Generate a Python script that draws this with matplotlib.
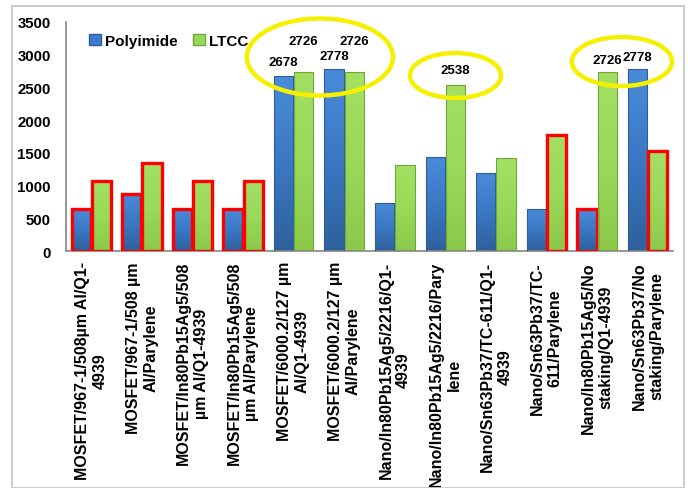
import matplotlib
matplotlib.use("Agg")
import matplotlib.pyplot as plt
import numpy as np
from matplotlib.patches import Ellipse, Rectangle, Patch
from matplotlib.colors import LinearSegmentedColormap

plt.rcParams['font.family'] = ['Liberation Sans', 'DejaVu Sans']
plt.rcParams['font.weight'] = 'bold'

categories = [
    "MOSFET/967-1/508µm Al/Q1-\n4939",
    "MOSFET/967-1/508 µm\nAl/Parylene",
    "MOSFET/In80Pb15Ag5/508\nµm Al/Q1-4939",
    "MOSFET/In80Pb15Ag5/508\nµm Al/Parylene",
    "MOSFET/6000.2/127 µm\nAl/Q1-4939",
    "MOSFET/6000.2/127 µm\nAl/Parylene",
    "Nano/In80Pb15Ag5/2216/Q1-\n4939",
    "Nano/In80Pb15Ag5/2216/Pary\nlene",
    "Nano/Sn63Pb37/TC-611/Q1-\n4939",
    "Nano/Sn63Pb37/TC-\n611/Parylene",
    "Nano/In80Pb15Ag5/No\nstaking/Q1-4939",
    "Nano/Sn63Pb37/No\nstaking/Parylene",
]
polyimide = [650, 880, 650, 650, 2678, 2778, 740, 1440, 1190, 650, 650, 2778]
ltcc = [1075, 1340, 1075, 1075, 2726, 2726, 1320, 2538, 1420, 1780, 2726, 1530]
# which bars are highlighted with a red outline
poly_red = [True, True, True, True, False, False, False, False, False, False, True, False]
ltcc_red = [True, True, True, True, False, False, False, False, False, True, False, True]
# value labels: (series, index)
poly_labels = [4, 5, 11]
ltcc_labels = [4, 5, 7, 10]
yticks = [0, 500, 1000, 1500, 2000, 2500, 3000, 3500]

W, H = 688, 489
fig = plt.figure(figsize=(W / 100, H / 100), dpi=100)
ax = fig.add_axes([66 / W, 1 - 252.3 / H, (673 - 66) / W, (252.3 - 22.7) / H])

# outer chart frame
fig.patches.append(Rectangle((12 / W, 0.0), (684 - 12) / W, (489 - 7) / H,
                             transform=fig.transFigure, fill=False,
                             edgecolor='#c8c8c8', linewidth=1.3, zorder=0))

x = np.arange(len(categories))
bw = 0.38
blue_cmap = LinearSegmentedColormap.from_list('b', ['#2f609c', '#3b78c4', '#4a8cda'])
green_cmap = LinearSegmentedColormap.from_list('g', ['#8cc94a', '#9ad95a', '#a4e063'])

bars_p = ax.bar(x - bw / 2 - 0.01, polyimide, bw, color='#3d7bc8', zorder=2)
bars_l = ax.bar(x + bw / 2 + 0.01, ltcc, bw, color='#9ad95a', zorder=2)

grad = np.linspace(0, 1, 256).reshape(-1, 1)
for bars, cmap, reds, edge in [(bars_p, blue_cmap, poly_red, '#2e5e98'),
                               (bars_l, green_cmap, ltcc_red, '#6fa83a')]:
    for b, r in zip(bars, reds):
        x0, y0, w, h = b.get_x(), b.get_y(), b.get_width(), b.get_height()
        im = ax.imshow(grad, cmap=cmap, aspect='auto', origin='lower',
                       extent=[x0, x0 + w, y0, y0 + h], zorder=2.1)
        im.set_clip_path(b)
        if r:
            ax.add_patch(Rectangle((x0, y0), w, h, fill=False, edgecolor='#ff0000',
                                   linewidth=2.4, zorder=3))
        else:
            ax.add_patch(Rectangle((x0, y0), w, h, fill=False, edgecolor=edge,
                                   linewidth=0.8, zorder=3))

# value labels
lbl_off_p = {4: 10, 5: 9.5, 11: 8.5}
lbl_off_l = {4: 23, 5: 23, 7: 11, 10: 9}
for i in poly_labels:
    b = bars_p[i]
    ax.annotate(f"{polyimide[i]}", (b.get_x() + b.get_width() / 2, polyimide[i]),
                xytext=(0, lbl_off_p[i]), textcoords='offset points',
                ha='center', va='center', fontsize=9.5, fontweight='bold', zorder=5)
for i in ltcc_labels:
    b = bars_l[i]
    ax.annotate(f"{ltcc[i]}", (b.get_x() + b.get_width() / 2, ltcc[i]),
                xytext=(0, lbl_off_l[i]), textcoords='offset points',
                ha='center', va='center', fontsize=9.5, fontweight='bold', zorder=5)

# yellow highlight ellipses
for cx, cy, ew, eh in [(4.52, 2962, 2.89, 1174), (7.2, 2680, 1.8, 686), (10.49, 2893, 1.98, 747)]:
    ax.add_patch(Ellipse((cx, cy), ew, eh, fill=False, edgecolor='#f5f000',
                         linewidth=3.2, zorder=6, clip_on=False))

ax.set_xlim(-0.5, len(categories) - 0.5)
ax.set_ylim(0, 3500)
ax.set_yticks(yticks)
ax.set_yticklabels([str(v) for v in yticks], fontsize=10.8, fontweight='bold')
ax.set_xticks(x)
ax.set_xticklabels(categories, rotation=90, ha='center', va='top',
                   multialignment='center', fontsize=11.5, fontweight='bold',
                   linespacing=1.22)
ax.tick_params(axis='y', length=0, pad=11)
ax.tick_params(axis='x', length=0, pad=7)
for s in ['top', 'right']:
    ax.spines[s].set_visible(False)
for s in ['left', 'bottom']:
    ax.spines[s].set_color('#868686')
    ax.spines[s].set_linewidth(1.2)
ax.set_facecolor('none')

handles = [Patch(facecolor='#3d7bc8', edgecolor='#2e5e98', label='Polyimide'),
           Patch(facecolor='#9ad95a', edgecolor='#6fa83a', label='LTCC')]
ax.legend(handles=handles, loc='center left', bbox_to_anchor=(0.026, 0.916),
          frameon=False, borderpad=0, handlelength=0.75, handleheight=0.75,
          handletextpad=0.3, columnspacing=1.0, ncol=2,
          prop={'size': 11, 'weight': 'bold'})

fig.savefig('out.png', dpi=100)
